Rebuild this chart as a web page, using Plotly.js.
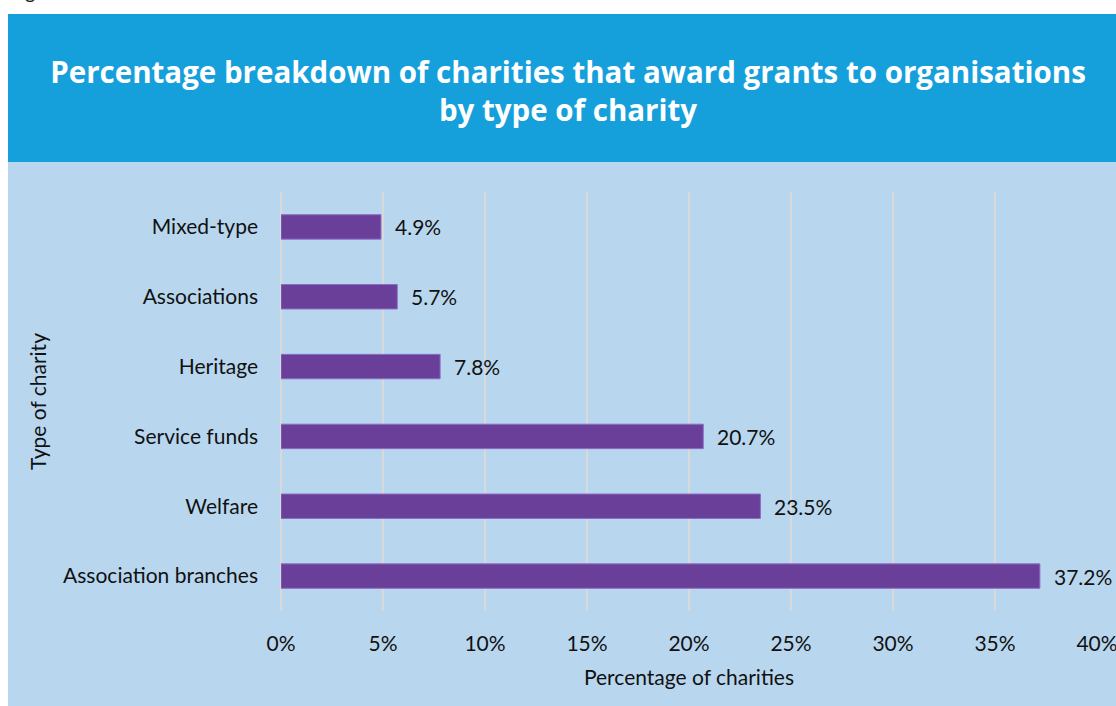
<!DOCTYPE html>
<html>
<head>
<meta charset="utf-8">
<script src="https://cdn.plot.ly/plotly-3.0.1.min.js"></script>
<style>html,body{margin:0;padding:0;background:#fff;}</style>
</head>
<body>
<div id="chart" style="width:1116px;height:706px;"></div>
<script>
const categories = ["Association branches", "Welfare", "Service funds", "Heritage", "Associations", "Mixed-type"];
const values = [37.2, 23.5, 20.7, 7.8, 5.7, 4.9];
const valueLabels = ["37.2%", "23.5%", "20.7%", "7.8%", "5.7%", "4.9%"];
const tickValues = [0, 5, 10, 15, 20, 25, 30, 35, 40];
const tickLabels = ["0%", "5%", "10%", "15%", "20%", "25%", "30%", "35%", "40%"];

const L = 281, R = 19, T = 192, B = 95, W = 1116, H = 706;
const pw = W - L - R, ph = H - T - B;
const px = x => (x - L) / pw;
const py = y => (H - B - y) / ph;
const FS = 21;
const FONT = 'Lato, sans-serif';

const trace = {
  type: 'bar',
  orientation: 'h',
  y: categories,
  x: values,
  marker: {color: '#6a3f99', line: {color: '#8c6cc4', width: 1}},
  width: 0.35,
  hoverinfo: 'skip'
};

const annotations = categories.map((c, i) => ({
  x: values[i], y: c, xref: 'x', yref: 'y',
  text: valueLabels[i], showarrow: false,
  xanchor: 'left', yanchor: 'middle', xshift: 12,
  font: {family: FONT, size: FS, color: '#111'}
}));
annotations.push({
  xref: 'paper', yref: 'paper', x: px(7), y: py(5),
  xanchor: 'left', yanchor: 'bottom',
  text: 'Figure 5', showarrow: false,
  font: {family: FONT, size: 20, color: '#222'}
});

const layout = {
  width: W, height: H,
  margin: {l: L, r: R, t: T, b: B, pad: 0},
  paper_bgcolor: '#ffffff',
  plot_bgcolor: 'rgba(0,0,0,0)',
  showlegend: false,
  title: {
    text: '<b>Percentage breakdown of charities that award grants to organisations<br>by type of charity</b>',
    font: {family: '"Open Sans", sans-serif', size: 29.5, color: '#ffffff'},
    xref: 'container', x: 568 / W, xanchor: 'center',
    yref: 'container', y: 1 - 83 / H, yanchor: 'middle'
  },
  shapes: [
    {type: 'rect', xref: 'paper', yref: 'paper', x0: px(8), x1: px(1116), y0: py(162), y1: py(14),
     fillcolor: '#16a0db', line: {width: 0}, layer: 'below'},
    {type: 'rect', xref: 'paper', yref: 'paper', x0: px(8), x1: px(1116), y0: py(706), y1: py(162),
     fillcolor: '#b8d7ef', line: {width: 0}, layer: 'below'}
  ],
  xaxis: {
    range: [0, 40],
    tickvals: tickValues, ticktext: tickLabels,
    showgrid: true, gridcolor: '#d9d9d9', gridwidth: 2,
    zeroline: true, zerolinecolor: '#d9d9d9', zerolinewidth: 2,
    showline: false, ticks: '',
    tickfont: {family: FONT, size: FS, color: '#111'},
    ticklabelstandoff: 18,
    ticklabeloverflow: 'allow',
    title: {text: 'Percentage of charities', font: {family: FONT, size: FS, color: '#111'}, standoff: 16},
    fixedrange: true
  },
  yaxis: {
    showgrid: false, showline: false, ticks: '',
    tickfont: {family: FONT, size: FS, color: '#111'},
    ticklabelstandoff: 22,
    title: {text: 'Type of charity', font: {family: FONT, size: FS, color: '#111'}, standoff: 10},
    fixedrange: true
  },
  annotations: annotations
};

Plotly.newPlot('chart', [trace], layout, {displayModeBar: false, responsive: false});
</script>
</body>
</html>
